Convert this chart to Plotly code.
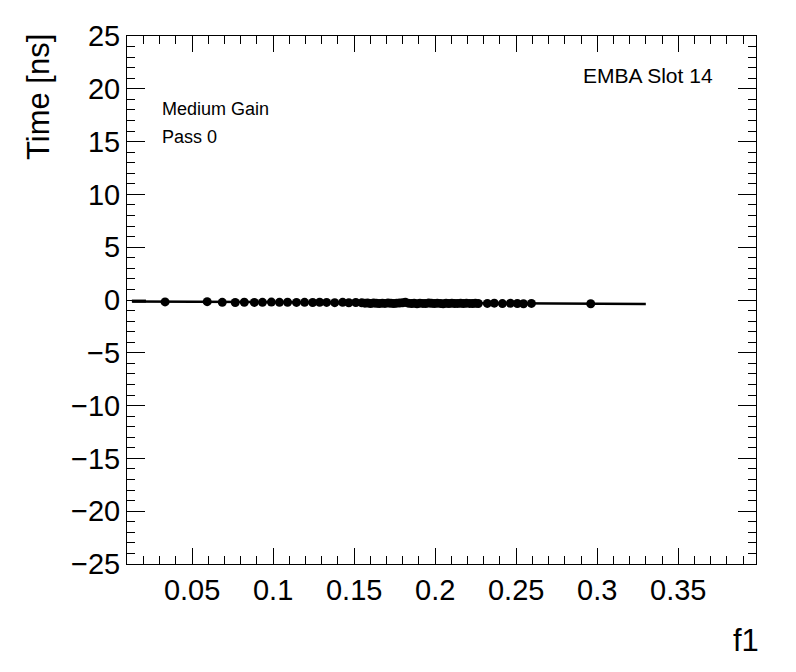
import plotly.graph_objects as go

# measured points (f1 vs time)
f1 = [0.0333, 0.0593, 0.0686, 0.0766, 0.0822, 0.0884, 0.0934, 0.0989, 0.1039, 0.1089,
      0.1144, 0.1194, 0.1244, 0.1287, 0.1330, 0.1380, 0.1429, 0.1467, 0.1510, 0.1547,
      0.1566, 0.1583, 0.1601, 0.1620, 0.1637, 0.1655, 0.1674, 0.1690, 0.1709, 0.1727,
      0.1745, 0.1762, 0.1780, 0.1799, 0.1816, 0.1834, 0.1853, 0.1870, 0.1888, 0.1906,
      0.1924, 0.1941, 0.1960, 0.1977, 0.1995, 0.2013, 0.2031, 0.2049, 0.2067, 0.2085,
      0.2103, 0.2121, 0.2139, 0.2157, 0.2175, 0.2193, 0.2212, 0.2230, 0.2248, 0.2266,
      0.2322, 0.2365, 0.2415, 0.2464, 0.2507, 0.2545, 0.2594, 0.2960]
time_ns = [-0.18, -0.16, -0.22, -0.24, -0.21, -0.23, -0.22, -0.20, -0.22, -0.21,
           -0.23, -0.22, -0.24, -0.21, -0.23, -0.25, -0.22, -0.26, -0.24, -0.27,
           -0.30, -0.28, -0.33, -0.29, -0.31, -0.34, -0.30, -0.32, -0.28, -0.31,
           -0.33, -0.30, -0.29, -0.27, -0.22, -0.30, -0.33, -0.31, -0.35, -0.30,
           -0.32, -0.34, -0.29, -0.31, -0.33, -0.30, -0.32, -0.35, -0.31, -0.33,
           -0.30, -0.34, -0.32, -0.31, -0.33, -0.30, -0.32, -0.34, -0.31, -0.33,
           -0.32, -0.30, -0.34, -0.31, -0.33, -0.35, -0.32, -0.36]

# fit line
fit_x = [0.013, 0.330]
fit_y = [-0.14, -0.38]
stub_x = [0.0128, 0.0215]
stub_y = [-0.10, -0.10]

fig = go.Figure()
fig.add_trace(go.Scatter(x=fit_x, y=fit_y, mode="lines", line=dict(color="black", width=2.5), showlegend=False))
fig.add_trace(go.Scatter(x=stub_x, y=stub_y, mode="lines", line=dict(color="black", width=3), showlegend=False))
fig.add_trace(go.Scatter(x=f1, y=time_ns, mode="markers", marker=dict(size=9, color="black"), showlegend=False))

# page body has an 8px margin, so shift the plot area back by 8px
fig.update_layout(width=796, height=672, plot_bgcolor="white", paper_bgcolor="white",
                  margin=dict(l=119, r=48, t=26, b=116),
                  font=dict(family="Liberation Sans, Arial", color="black"))
fig.update_xaxes(range=[0.0098, 0.398], dtick=0.05, tick0=0, ticks="inside", ticklen=16, tickwidth=1,
                 tickcolor="black", showline=True, linecolor="black", linewidth=1, mirror="ticks",
                 showgrid=False, zeroline=False, tickfont=dict(size=29), ticklabelstandoff=0,
                 minor=dict(dtick=0.01, tick0=0, ticks="inside", ticklen=8, tickcolor="black", showgrid=False))
fig.update_yaxes(range=[-25, 25], dtick=5, ticks="inside", ticklen=18, tickwidth=1,
                 tickcolor="black", showline=True, linecolor="black", linewidth=1, mirror="ticks",
                 showgrid=False, zeroline=False, tickfont=dict(size=29), ticklabelstandoff=0,
                 minor=dict(dtick=1, ticks="inside", ticklen=8, tickcolor="black", showgrid=False))

fig.add_annotation(text="Time [ns]", textangle=-90, xref="paper", yref="paper", x=-0.1415, y=1.0075,
                   xanchor="center", yanchor="top", showarrow=False, font=dict(size=31))
fig.add_annotation(text="f1", xref="paper", yref="paper", x=1.008, y=-0.145,
                   xanchor="right", yanchor="middle", showarrow=False, font=dict(size=31))
fig.add_annotation(text="Medium Gain", xref="paper", yref="paper", x=0.052, y=0.862,
                   xanchor="left", yanchor="middle", showarrow=False, font=dict(size=18))
fig.add_annotation(text="Pass 0", xref="paper", yref="paper", x=0.052, y=0.809,
                   xanchor="left", yanchor="middle", showarrow=False, font=dict(size=18))
fig.add_annotation(text="EMBA Slot 14", xref="paper", yref="paper", x=0.935, y=0.926,
                   xanchor="right", yanchor="middle", showarrow=False, font=dict(size=21))

fig.write_html("out.html")
